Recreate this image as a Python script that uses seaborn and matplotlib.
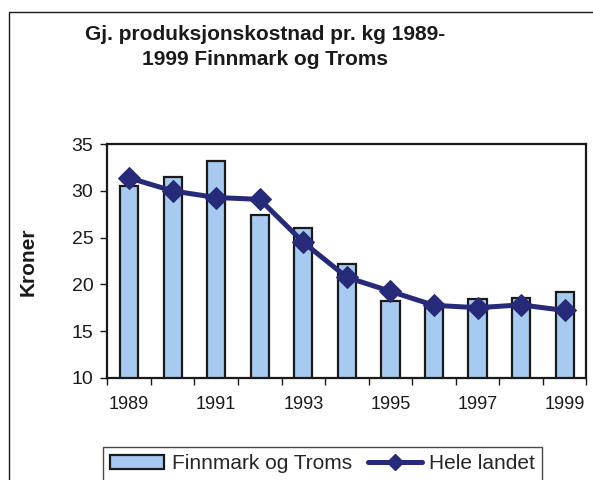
import numpy as np
import pandas as pd
import matplotlib
matplotlib.use("Agg")
import matplotlib.pyplot as plt
import seaborn as sns
from matplotlib.patches import Rectangle, Patch
from matplotlib.lines import Line2D

years = [1989, 1990, 1991, 1992, 1993, 1994, 1995, 1996, 1997, 1998, 1999]
finnmark_troms = [30.5, 31.5, 33.2, 27.4, 26.0, 22.2, 18.2, 17.9, 18.4, 18.5, 19.15]
hele_landet = [31.4, 30.0, 29.3, 29.1, 24.5, 20.75, 19.25, 17.75, 17.5, 17.8, 17.2]
tick_years = ["1989", "1991", "1993", "1995", "1997", "1999"]

bar_color = "#A6CAF0"
line_color = "#262A78"
ink = "#1a1a1a"

sns.set_style("white")
plt.rcParams["font.family"] = ["Liberation Sans", "DejaVu Sans"]

df = pd.DataFrame({"year": [str(y) for y in years],
                   "ft": finnmark_troms,
                   "hl": hele_landet})

fig = plt.figure(figsize=(5.93, 4.8), dpi=100)
ax = fig.add_axes([0.181, 0.2131, 0.808, 0.4863])

sns.barplot(data=df, x="year", y="ft", ax=ax, color=bar_color, width=0.42,
            edgecolor=ink, linewidth=1.6, saturation=1)
sns.lineplot(x=np.arange(len(years)), y=df["hl"], ax=ax, color=line_color,
             linewidth=3.6, marker="D", markersize=11, markeredgecolor=line_color)

ax.set_xlim(-0.5, len(years) - 0.5)
ax.set_ylim(10, 35)
ax.set_yticks([10, 15, 20, 25, 30, 35])
ax.set_xticks(np.arange(0, len(years), 2))
ax.set_xticklabels(tick_years)
ax.set_xticks(np.arange(-0.5, len(years), 1), minor=True)
ax.tick_params(axis="x", which="major", length=0, pad=13, labelsize=13, colors=ink)
ax.tick_params(axis="x", which="minor", length=5, width=1, color=ink, direction="out")
ax.tick_params(axis="y", length=5, width=1, color=ink, direction="out", pad=5,
               labelsize=14, labelcolor=ink)
ax.tick_params(left=True, bottom=True, which="both")
for s in ax.spines.values():
    s.set_visible(True)
    s.set_color(ink)
    s.set_linewidth(1.6)

ax.set_xlabel("")
ax.set_ylabel("")
fig.text(28 / 593, 1 - 262 / 480, "Kroner", rotation=90, ha="center", va="center",
         fontsize=15, fontweight="bold", color=ink)

fig.text(265 / 593, 1 - 47 / 480, "Gj. produksjonskostnad pr. kg 1989-\n1999 Finnmark og Troms",
         ha="center", va="center", fontsize=15, fontweight="bold", color=ink,
         linespacing=1.35)

# outer chart frame
fig.add_artist(Rectangle((9 / 593, -0.1), 1.2, 1 - 12 / 480 + 0.1,
                         transform=fig.transFigure, fill=False,
                         edgecolor=ink, linewidth=1.0))

handles = [Patch(facecolor=bar_color, edgecolor=ink, linewidth=1.6),
           Line2D([], [], color=line_color, linewidth=3.6, marker="D", markersize=8)]
leg = fig.legend(handles, ["Finnmark og Troms", "Hele landet"], loc="upper left",
                 bbox_to_anchor=(103 / 593, 1 - 447 / 480), ncol=2, frameon=True,
                 fancybox=False, edgecolor=ink, fontsize=15, handlelength=2.6,
                 handleheight=0.6, handletextpad=0.35, columnspacing=0.75,
                 borderpad=0.35, borderaxespad=0)
leg.get_frame().set_linewidth(1.0)

fig.savefig("out.png", dpi=100)
